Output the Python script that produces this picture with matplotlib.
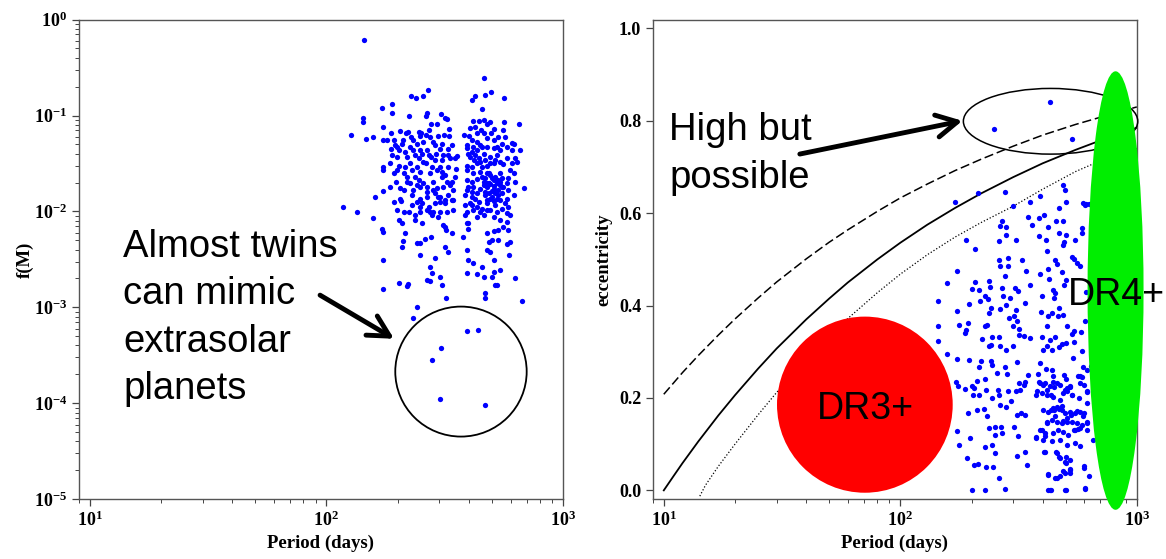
import math
import matplotlib
matplotlib.use("Agg")
import matplotlib.pyplot as plt
from matplotlib.patches import Ellipse
from matplotlib.ticker import FuncFormatter, NullFormatter, LogLocator

plt.rcParams['font.family'] = ['Liberation Serif', 'DejaVu Serif']
plt.rcParams['font.weight'] = 'bold'
plt.rcParams['mathtext.fontset'] = 'custom'
plt.rcParams['mathtext.rm'] = 'Liberation Serif:bold'
plt.rcParams['mathtext.bf'] = 'Liberation Serif:bold'
plt.rcParams['mathtext.it'] = 'Liberation Serif:bold:italic'

# ---------------- left panel data: mass function vs period ----------------
fm_period = [
    144, 464, 269, 496, 468, 228, 238, 255, 426, 410,
    561, 189, 171, 452, 189, 224, 266, 264, 304, 316,
    322, 143, 143, 418, 440, 462, 476, 491, 561, 650,
    405, 425, 174, 277, 293, 204, 216, 221, 247, 251,
    271, 331, 448, 508, 556, 127, 147, 157, 173, 188,
    193, 211, 228, 249, 264, 274, 297, 315, 331, 383,
    400, 432, 461, 494, 531, 607, 617, 411, 432, 476,
    508, 570, 195, 208, 233, 241, 257, 283, 307, 188,
    203, 226, 249, 266, 288, 302, 327, 338, 392, 418,
    446, 476, 524, 550, 607, 658, 189, 198, 219, 237,
    253, 276, 290, 312, 333, 349, 355, 398, 425, 461,
    491, 524, 578, 627, 637, 174, 186, 202, 215, 226,
    241, 264, 279, 302, 327, 353, 392, 411, 432, 453,
    476, 508, 556, 607, 174, 193, 212, 230, 249, 274,
    293, 307, 317, 392, 418, 446, 476, 491, 542, 617,
    197, 219, 237, 245, 257, 283, 307, 322, 392, 411,
    432, 461, 484, 508, 542, 578, 627, 686, 173, 205,
    233, 249, 266, 293, 312, 333, 392, 418, 446, 476,
    508, 550, 587, 160, 193, 205, 230, 249, 266, 288,
    302, 317, 338, 385, 411, 432, 468, 499, 533, 578,
    617, 206, 230, 241, 253, 270, 288, 302, 317, 344,
    385, 411, 432, 453, 476, 516, 550, 587, 224, 249,
    266, 283, 302, 322, 392, 418, 446, 491, 524, 118,
    134, 157, 202, 208, 237, 253, 279, 312, 338, 385,
    398, 432, 461, 508, 542, 578, 171, 173, 215, 210,
    208, 241, 249, 262, 277, 317, 320, 379, 398, 392,
    476, 508, 533, 559, 587, 484, 499, 533, 578, 597,
    249, 288, 317, 327, 392, 398, 418, 476, 491, 508,
    589, 542, 173, 274, 279, 266, 274, 302, 307, 392,
    432, 453, 461, 499, 508, 516, 524, 623, 174, 203,
    218, 221, 242, 319, 468, 468, 668,
    233, 394, 435, 304, 279, 302, 468,
    453, 468, 484, 499, 516, 533, 550, 461, 476, 491,
    508, 524, 542, 559, 468, 484, 499, 516, 533, 550,
    476, 491, 508, 524, 542, 446, 468, 491, 516, 542,
    405, 421, 439, 398, 411, 425, 405, 439, 476, 568,
    578, 597, 392, 411, 432, 453, 508, 542, 578, 597,
    587,
    180, 198, 215, 233, 245, 257, 270, 288, 307, 327,
    198, 219, 241, 266, 283, 297, 327, 344, 212, 226,
    186, 249, 274, 297, 212, 237, 198, 344, 338, 349,
]
fm_value = [
    0.607, 0.245, 0.186, 0.177, 0.165, 0.158, 0.153, 0.158, 0.158, 0.144,
    0.153, 0.131, 0.121, 0.118, 0.105, 0.100, 0.105, 0.098, 0.104, 0.095,
    0.093, 0.095, 0.085, 0.088, 0.088, 0.090, 0.081, 0.086, 0.086, 0.081,
    0.074, 0.076, 0.076, 0.081, 0.082, 0.069, 0.066, 0.068, 0.068, 0.065,
    0.071, 0.072, 0.071, 0.072, 0.071, 0.062, 0.057, 0.060, 0.056, 0.065,
    0.0555, 0.0555, 0.060, 0.061, 0.062, 0.060, 0.061, 0.063, 0.061, 0.063,
    0.061, 0.065, 0.065, 0.066, 0.060, 0.052, 0.050, 0.0555, 0.053, 0.058,
    0.0555, 0.060, 0.049, 0.051, 0.0555, 0.051, 0.053, 0.053, 0.051, 0.045,
    0.044, 0.047, 0.044, 0.0437, 0.049, 0.045, 0.045, 0.049, 0.049, 0.047,
    0.049, 0.047, 0.047, 0.051, 0.0437, 0.0437, 0.039, 0.037, 0.037, 0.039,
    0.040, 0.037, 0.040, 0.039, 0.036, 0.036, 0.038, 0.040, 0.039, 0.040,
    0.037, 0.039, 0.036, 0.036, 0.033, 0.029, 0.032, 0.030, 0.029, 0.032,
    0.029, 0.032, 0.029, 0.029, 0.029, 0.0275, 0.030, 0.029, 0.032, 0.029,
    0.030, 0.032, 0.031, 0.032, 0.027, 0.025, 0.025, 0.027, 0.026, 0.025,
    0.027, 0.026, 0.024, 0.027, 0.025, 0.026, 0.025, 0.024, 0.025, 0.025,
    0.0205, 0.0205, 0.023, 0.0213, 0.0196, 0.0205, 0.023, 0.0205, 0.0213, 0.0205,
    0.022, 0.0205, 0.0196, 0.0213, 0.0205, 0.0196, 0.0205, 0.0175, 0.0165, 0.0174,
    0.0167, 0.0181, 0.016, 0.0174, 0.0181, 0.0188, 0.0167, 0.0181, 0.017, 0.0181,
    0.017, 0.0181, 0.0167, 0.0142, 0.0126, 0.0136, 0.0148, 0.0136, 0.0142, 0.0154,
    0.0142, 0.0131, 0.0131, 0.0148, 0.0142, 0.0154, 0.0148, 0.0142, 0.0148, 0.0136,
    0.0148, 0.0129, 0.0116, 0.0126, 0.0121, 0.0112, 0.0121, 0.0126, 0.0121, 0.0131,
    0.0116, 0.0116, 0.0112, 0.0107, 0.0121, 0.0116, 0.0107, 0.0112, 0.0099, 0.0099,
    0.0103, 0.0099, 0.0099, 0.0099, 0.0099, 0.0103, 0.0099, 0.0103, 0.0099, 0.0112,
    0.0099, 0.0085, 0.0081, 0.0075, 0.0081, 0.0075, 0.0092, 0.0072, 0.0059, 0.0092,
    0.0075, 0.0088, 0.0092, 0.0088, 0.0081, 0.0078, 0.0066, 0.0061, 0.0060, 0.0049,
    0.0043, 0.0047, 0.0047, 0.0052, 0.0054, 0.0069, 0.0064, 0.0054, 0.0066, 0.0075,
    0.0060, 0.0062, 0.0064, 0.0069, 0.0064, 0.0048, 0.0050, 0.0050, 0.0046, 0.0048,
    0.0035, 0.0033, 0.0043, 0.0038, 0.0040, 0.0031, 0.0029, 0.0040, 0.0038, 0.0031,
    0.0035, 0.00245, 0.0031, 0.00265, 0.00226, 0.00193, 0.00186, 0.00209, 0.0017, 0.00226,
    0.0022, 0.00265, 0.00209, 0.00209, 0.00235, 0.0017, 0.0017, 0.0020, 0.00154, 0.00178,
    0.00167, 0.00175, 0.00101, 0.00125, 0.0014, 0.00125, 0.00117,
    0.00077, 0.00056, 0.00058, 0.000376, 0.00028, 0.000112, 0.000096,
    0.0230, 0.0221, 0.0249, 0.0221, 0.0230, 0.0213, 0.0221, 0.0188, 0.0200, 0.0193,
    0.0184, 0.0196, 0.0188, 0.0181, 0.0160, 0.0154, 0.0164, 0.0157, 0.0167, 0.0154,
    0.0131, 0.0136, 0.0129, 0.0136, 0.0131, 0.0330, 0.0343, 0.0320, 0.0340, 0.0330,
    0.0372, 0.0343, 0.0357, 0.0181, 0.0160, 0.0136, 0.0121, 0.0126, 0.0103, 0.0121,
    0.00955, 0.0092, 0.0455, 0.0420, 0.0437, 0.0466, 0.0455, 0.0437, 0.0473, 0.0270,
    0.0221,
    0.0555, 0.0473, 0.0420, 0.0437, 0.0357, 0.0330, 0.0388, 0.0343, 0.0343, 0.0388,
    0.0270, 0.0230, 0.0188, 0.0181, 0.0167, 0.0142, 0.0148, 0.0167, 0.0167, 0.0196,
    0.0181, 0.0112, 0.0099, 0.0088, 0.0099, 0.0092, 0.0103, 0.0103, 0.0205, 0.0230,
]

# ---------------- right panel data: eccentricity vs period ----------------
ecc_period = [
    487, 496, 278, 214, 390, 171, 500, 352, 603, 594,
    300, 470, 405, 345, 387, 270, 359, 265, 281, 420,
    489, 456, 470, 502, 584, 547, 487, 494, 384, 412,
    584, 279, 189, 262, 308, 206, 418, 533, 540, 450,
    461, 560, 573, 261, 285, 264, 285, 328, 174, 340,
    389, 421, 481, 494, 504, 425, 443, 452, 447, 157,
    206, 237, 201, 216, 239, 268, 276, 304, 315, 354,
    399, 144, 195, 217, 228, 234, 241, 237, 263, 272,
    291, 281, 335, 307, 288, 303, 312, 318, 300, 395,
    421, 418, 437, 470, 463, 485, 542, 582, 605, 506,
    174, 144, 177, 194, 190, 188, 228, 233, 222, 245,
    241, 237, 261, 264, 317, 333, 352, 279, 300, 398,
    429, 449, 415, 403, 436, 470, 481, 504, 533, 540,
    586, 144, 157, 174, 196, 219, 216, 241, 244, 256,
    278, 282, 311, 346, 389, 381, 413, 437, 443, 493,
    504, 538, 590, 584, 210, 227, 205, 188, 200, 172,
    175, 202, 216, 231, 244, 260, 261, 286, 293, 317,
    320, 333, 338, 308, 264, 279, 377, 389, 402, 415,
    432, 446, 458, 473, 498, 522, 532, 562, 577, 615,
    617, 596, 193, 211, 225, 233, 238, 252, 267, 270,
    252, 301, 310, 315, 323, 335, 376, 398, 407, 418,
    433, 446, 452, 470, 481, 487, 507, 528, 557, 566,
    590, 613, 544, 173, 177, 197, 229, 245, 252, 191,
    204, 214, 231, 246, 261, 310, 338, 342, 405, 455,
    470, 500, 504, 522, 522, 600, 458, 487, 420, 201,
    229, 277, 423, 435, 500, 603,
    249, 430, 532,
    630, 645, 660, 640, 690, 655, 700, 625, 612, 612, 614,
    386, 409, 429, 443, 473, 505, 522, 576, 396, 415,
    443, 486, 505, 530, 572, 615, 376, 402, 422, 443,
    458, 481, 497, 522, 548, 576, 595, 615, 415, 436,
    458, 481, 505, 530, 557, 586, 615, 389, 409, 443,
    466, 489, 513, 548, 576, 376, 402, 436, 473, 505,
    548, 576, 409, 458, 473, 497, 522, 422, 451, 473,
    497, 522, 595, 429, 497, 605,
]
ecc_value = [
    0.662, 0.651, 0.645, 0.643, 0.638, 0.624, 0.624, 0.625, 0.618, 0.622,
    0.615, 0.611, 0.597, 0.592, 0.589, 0.582, 0.575, 0.573, 0.571, 0.570,
    0.582, 0.584, 0.557, 0.553, 0.568, 0.542, 0.532, 0.537, 0.551, 0.542,
    0.557, 0.553, 0.542, 0.539, 0.541, 0.523, 0.519, 0.506, 0.501, 0.499,
    0.491, 0.492, 0.485, 0.499, 0.503, 0.486, 0.486, 0.498, 0.475, 0.474,
    0.469, 0.480, 0.472, 0.445, 0.456, 0.457, 0.434, 0.427, 0.416, 0.449,
    0.451, 0.454, 0.436, 0.434, 0.440, 0.439, 0.465, 0.438, 0.431, 0.444,
    0.421, 0.410, 0.404, 0.409, 0.420, 0.414, 0.395, 0.384, 0.392, 0.420,
    0.416, 0.402, 0.405, 0.391, 0.373, 0.377, 0.366, 0.349, 0.355, 0.387,
    0.377, 0.355, 0.384, 0.395, 0.378, 0.379, 0.346, 0.343, 0.366, 0.355,
    0.389, 0.355, 0.358, 0.362, 0.348, 0.340, 0.355, 0.358, 0.327, 0.332,
    0.314, 0.313, 0.333, 0.312, 0.337, 0.335, 0.330, 0.304, 0.312, 0.333,
    0.325, 0.333, 0.312, 0.304, 0.304, 0.310, 0.317, 0.319, 0.338, 0.322,
    0.301, 0.324, 0.296, 0.285, 0.283, 0.279, 0.268, 0.279, 0.272, 0.254,
    0.268, 0.252, 0.277, 0.250, 0.276, 0.252, 0.263, 0.261, 0.247, 0.250,
    0.241, 0.286, 0.266, 0.245, 0.237, 0.241, 0.222, 0.219, 0.225, 0.235,
    0.225, 0.207, 0.207, 0.218, 0.199, 0.218, 0.207, 0.216, 0.193, 0.232,
    0.218, 0.229, 0.235, 0.216, 0.185, 0.180, 0.214, 0.232, 0.229, 0.218,
    0.207, 0.224, 0.232, 0.196, 0.218, 0.224, 0.206, 0.247, 0.247, 0.212,
    0.261, 0.229, 0.167, 0.175, 0.177, 0.160, 0.135, 0.138, 0.138, 0.124,
    0.119, 0.137, 0.164, 0.117, 0.167, 0.164, 0.115, 0.131, 0.117, 0.149,
    0.175, 0.175, 0.160, 0.177, 0.182, 0.151, 0.148, 0.164, 0.171, 0.133,
    0.161, 0.147, 0.130, 0.128, 0.098, 0.113, 0.094, 0.098, 0.081, 0.071,
    0.055, 0.058, 0.050, 0.050, 0.026, 0.075, 0.082, 0.055, 0.083, 0.083,
    0.073, 0.059, 0.072, 0.046, 0.037, 0.052, 0.027, 0.041, 0.036, 0.000,
    0.000, 0.003, 0.000, 0.000, 0.001, 0.003,
    0.782, 0.840, 0.761,
    0.62, 0.50, 0.35, 0.27, 0.20, 0.11, 0.42, 0.03, 0.62, 0.43, 0.13,
    0.235, 0.232, 0.225, 0.235, 0.228, 0.221, 0.226, 0.232, 0.210, 0.207,
    0.203, 0.210, 0.214, 0.207, 0.199, 0.214, 0.207, 0.174, 0.170, 0.178,
    0.181, 0.174, 0.167, 0.170, 0.167, 0.170, 0.167, 0.189, 0.145, 0.152,
    0.149, 0.145, 0.156, 0.149, 0.145, 0.142, 0.145, 0.131, 0.124, 0.124,
    0.131, 0.127, 0.120, 0.131, 0.134, 0.113, 0.109, 0.106, 0.109, 0.098,
    0.102, 0.095, 0.084, 0.080, 0.069, 0.062, 0.066, 0.033, 0.026, 0.030,
    0.037, 0.044, 0.048, 0.001, 0.001, 0.005,
]

# limiting curves
dashed_period = [10, 12, 14, 17, 20, 25, 30, 40, 50, 60, 80, 100, 130, 170, 220, 300, 400, 550, 750, 1000]
dashed_ecc = [0.208, 0.255, 0.292, 0.336, 0.371, 0.416, 0.451, 0.501, 0.537, 0.564, 0.604,
              0.633, 0.663, 0.692, 0.717, 0.745, 0.769, 0.792, 0.812, 0.830]
solid_period = [10, 11, 12, 14, 17, 20, 25, 30, 40, 50, 60, 80, 100, 130, 170, 220, 300, 400, 550, 750, 1000]
solid_ecc = [0.0, 0.031, 0.059, 0.106, 0.162, 0.206, 0.263, 0.307, 0.370, 0.415, 0.450, 0.500,
             0.536, 0.575, 0.611, 0.643, 0.678, 0.708, 0.737, 0.763, 0.785]
dotted_period = [14.2, 15, 17, 20, 25, 30, 40, 50, 60, 80, 100, 130, 170, 220, 300, 400, 550, 750, 1000]
dotted_ecc = [-0.0125, 0.011, 0.052, 0.100, 0.163, 0.212, 0.283, 0.333, 0.372, 0.428, 0.468,
              0.510, 0.548, 0.580, 0.615, 0.652, 0.690, 0.720, 0.740]

ecc_ticks = [0.0, 0.2, 0.4, 0.6, 0.8, 1.0]

BLUE = '#0000FF'
fig = plt.figure(figsize=(11.66, 5.59), dpi=100)
ax1 = fig.add_axes([0.0676, 0.1071, 0.4154, 0.8578])
ax2 = fig.add_axes([0.5600, 0.1071, 0.4150, 0.8578])


def sci(v, pos=None):
    e = int(round(math.log10(v)))
    return r'$\mathbf{10^{%d}}$' % e


for ax in (ax1, ax2):
    for side in ('top', 'right', 'left', 'bottom'):
        ax.spines[side].set_color('#555555')
        ax.spines[side].set_linewidth(1.0)
    ax.tick_params(which='both', direction='out', top=False, right=False,
                   colors='#444444', labelcolor='black', labelsize=13)
    ax.tick_params(which='major', length=5, width=0.9)
    ax.tick_params(which='minor', length=3, width=0.7)

# ---- left panel ----
ax1.set_xscale('log')
ax1.set_yscale('log')
ax1.set_xlim(9, 1000)
ax1.set_ylim(1e-5, 1)
ax1.plot(fm_period, fm_value, 'o', color=BLUE, ms=3.8, mew=0, zorder=3)
ax1.xaxis.set_major_locator(LogLocator(base=10, numticks=10))
ax1.yaxis.set_major_locator(LogLocator(base=10, numticks=10))
ax1.xaxis.set_major_formatter(FuncFormatter(sci))
ax1.yaxis.set_major_formatter(FuncFormatter(sci))
ax1.xaxis.set_minor_formatter(NullFormatter())
ax1.yaxis.set_minor_formatter(NullFormatter())
ax1.set_xlabel('Period (days)', fontsize=13.5, fontweight='bold', labelpad=3)
ax1.set_ylabel('f(M)', fontsize=13.5, fontweight='bold', labelpad=0)

ax1.add_patch(Ellipse((0.789, 0.266), 0.2713, 0.2711, transform=ax1.transAxes,
                      fill=False, edgecolor='black', lw=1.3, zorder=4))
ax1.annotate('', xy=(193, 4.7e-4), xytext=(94, 1.34e-3),
             arrowprops=dict(arrowstyle='->,head_length=0.6,head_width=0.32',
                             lw=3.5, color='black', mutation_scale=25,
                             shrinkA=0, shrinkB=0), zorder=5)
ax1.text(0.0917, 0.563, 'Almost twins\ncan mimic\nextrasolar\nplanets',
         transform=ax1.transAxes, ha='left', va='top', fontsize=27.5,
         family='Liberation Sans', fontweight='normal', linespacing=1.40, zorder=5)

# ---- right panel ----
ax2.set_xscale('log')
ax2.set_xlim(9, 1000)
ax2.set_ylim(-0.019, 1.019)
ax2.plot(dashed_period, dashed_ecc, color='black', lw=1.1, ls=(0, (6, 2.5)), zorder=2)
ax2.plot(solid_period, solid_ecc, color='black', lw=1.3, zorder=2)
ax2.plot(dotted_period, dotted_ecc, color='black', lw=0.9, ls=(0, (1, 1.6)), zorder=2)
ax2.plot(ecc_period, ecc_value, 'o', color=BLUE, ms=3.8, mew=0, zorder=3)
ax2.set_yticks(ecc_ticks)
ax2.yaxis.set_major_formatter(FuncFormatter(lambda v, p: '%.1f' % v))
ax2.xaxis.set_major_locator(LogLocator(base=10, numticks=10))
ax2.xaxis.set_major_formatter(FuncFormatter(sci))
ax2.xaxis.set_minor_formatter(NullFormatter())
ax2.set_xlabel('Period (days)', fontsize=13.5, fontweight='bold', labelpad=3)
ax2.set_ylabel('eccentricity', fontsize=13.5, fontweight='bold', labelpad=5)

ax2.add_patch(Ellipse((0.8217, 0.788), 0.3604, 0.137, transform=ax2.transAxes,
                      fill=False, edgecolor='black', lw=1.1, zorder=4, clip_on=False))
ax2.add_patch(Ellipse((0.4379, 0.197), 0.3631, 0.3673, transform=ax2.transAxes,
                      facecolor='#FF0000', edgecolor='none', zorder=4))
ax2.add_patch(Ellipse((0.956, 0.435), 0.1157, 0.9145, transform=ax2.transAxes,
                      facecolor='#00EE00', edgecolor='none', zorder=5, clip_on=False))
ax2.annotate('', xy=(183, 0.800), xytext=(37.6, 0.728),
             arrowprops=dict(arrowstyle='->,head_length=0.6,head_width=0.32',
                             lw=3.5, color='black', mutation_scale=25,
                             shrinkA=0, shrinkB=0), zorder=6)
ax2.text(0.0339, 0.807, 'High but\npossible', transform=ax2.transAxes,
         ha='left', va='top', fontsize=27.5, family='Liberation Sans',
         fontweight='normal', linespacing=1.42, zorder=6)
ax2.text(0.4383, 0.1664, 'DR3+', transform=ax2.transAxes, ha='center',
         va='baseline', fontsize=27, family='Liberation Sans',
         fontweight='normal', zorder=6)
ax2.text(0.857, 0.405, 'DR4+', transform=ax2.transAxes, ha='left',
         va='baseline', fontsize=27, family='Liberation Sans',
         fontweight='normal', zorder=7)

fig.savefig('out.png', dpi=100)
